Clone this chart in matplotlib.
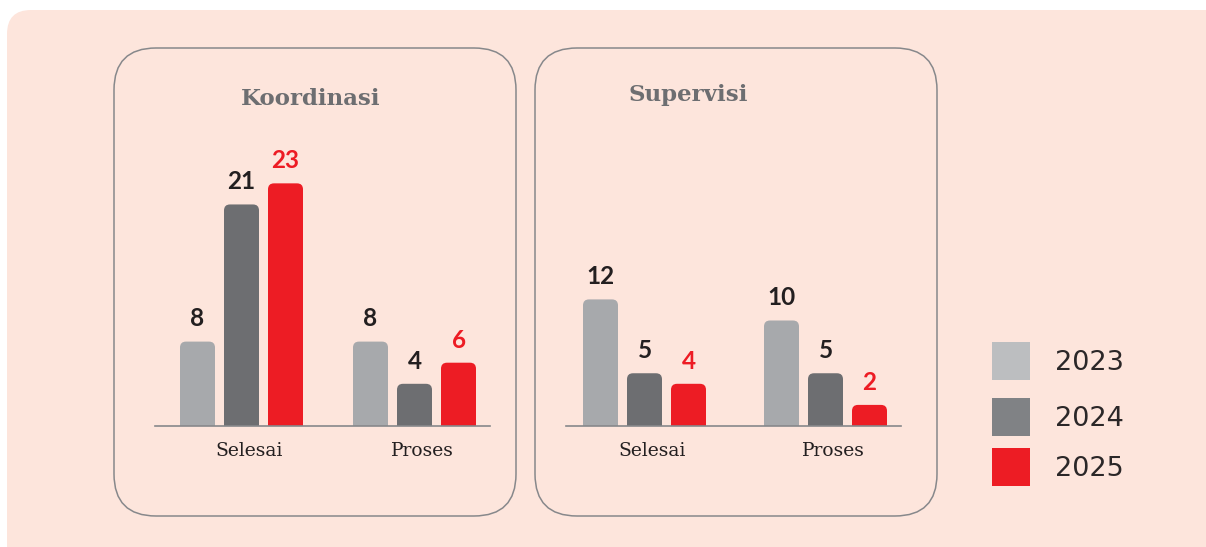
import matplotlib
matplotlib.use("Agg")
from matplotlib import pyplot as plt
from matplotlib.patches import FancyBboxPatch

# data
categories = ["Selesai", "Proses"]
years = ["2023", "2024", "2025"]
koordinasi = {"2023": [8, 8], "2024": [21, 4], "2025": [23, 6]}
supervisi = {"2023": [12, 10], "2024": [5, 5], "2025": [4, 2]}

bar_colors = {"2023": "#a7a9ac", "2024": "#6d6e71", "2025": "#ed1c24"}
legend_colors = {"2023": "#bcbec0", "2024": "#808285", "2025": "#ed1c24"}
label_colors = {"2023": "#231f20", "2024": "#231f20", "2025": "#ed1c24"}

W, H = 1206, 547
BG = "#fde5dc"
EDGE = "#87888b"

fig = plt.figure(figsize=(W / 100, H / 100), dpi=100)
fig.patch.set_facecolor("white")

# background canvas in pixel units
bg = fig.add_axes([0, 0, 1, 1])
bg.set_xlim(0, W)
bg.set_ylim(H, 0)
bg.axis("off")
bg.add_patch(FancyBboxPatch((7, 10), W + 20, H + 20,
                            boxstyle="round,pad=0,rounding_size=24",
                            fc=BG, ec="none"))
for x0 in (114, 535):
    bg.add_patch(FancyBboxPatch((x0, 48), 402, 468,
                                boxstyle="round,pad=0,rounding_size=42",
                                fc="none", ec=EDGE, lw=1.1))

bg.text(311, 99, "Koordinasi", ha="center", va="center", family="DejaVu Serif",
        fontweight="bold", fontsize=16.5, color="#6d6e71")
bg.text(688, 95, "Supervisi", ha="center", va="center", family="DejaVu Serif",
        fontweight="bold", fontsize=16.5, color="#6d6e71")

# legend
for i, y in enumerate(years):
    top = [342, 398, 448][i]
    bg.add_patch(plt.Rectangle((992, top), 38, 38, fc=legend_colors[y], ec="none"))
    bg.text(1055, top + 21, y, ha="left", va="center", fontsize=19.5,
            family="DejaVu Sans", color="#2b2728")

ymax = 26
ax_h = ymax * 10.55
base_px = 426
bar_px = 35
step_px = 44


def panel(left_px, right_px, c0_px, c1_px, data):
    ax = fig.add_axes([left_px / W, (H - base_px) / H, (right_px - left_px) / W, ax_h / H])
    unit = c1_px - c0_px  # pixels per category step
    ax.set_xlim((left_px - c0_px) / unit, (right_px - c0_px) / unit)
    ax.set_ylim(0, ymax)
    ax.axis("off")
    ax.axhline(0, color=EDGE, lw=1.2, zorder=3, clip_on=False)
    bar_w = bar_px / unit
    step = step_px / unit
    r = 6 / unit
    aspect = (ymax / ax_h) * unit  # y data per x data at equal pixels
    for j, y in enumerate(years):
        for i, cat in enumerate(categories):
            v = data[y][i]
            x = i + (j - 1) * step - bar_w / 2
            ax.add_patch(FancyBboxPatch((x, -2), bar_w, v + 2,
                                        boxstyle=f"round,pad=0,rounding_size={r}",
                                        mutation_aspect=aspect,
                                        fc=bar_colors[y], ec="none"))
            ax.annotate(str(v), (x + bar_w / 2, v), xytext=(0, 8),
                        textcoords="offset points", ha="center", va="bottom",
                        fontsize=17.5, fontweight="bold", family="Lato",
                        color=label_colors[y])
    for i, cat in enumerate(categories):
        ax.annotate(cat, (i + 8 / unit, 0), xytext=(0, -18), textcoords="offset points",
                    ha="center", va="center", fontsize=13.5, family="DejaVu Serif",
                    color="#231f20", annotation_clip=False)
    return ax


panel(155, 490, 241.5, 414.5, koordinasi)
panel(566, 901, 644.5, 825.5, supervisi)

fig.savefig("out.png", dpi=100, facecolor=fig.get_facecolor())
